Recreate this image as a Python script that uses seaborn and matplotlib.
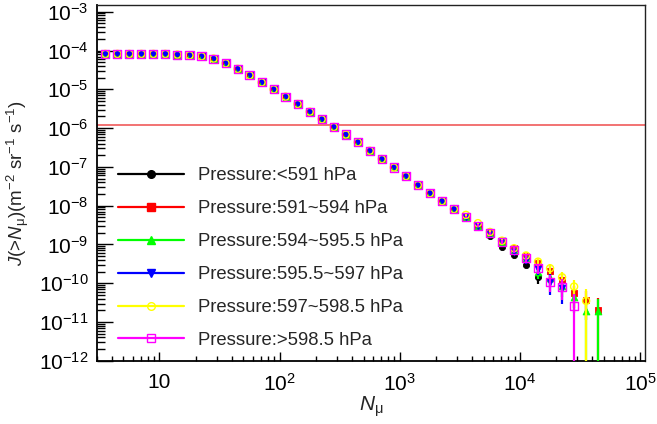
import matplotlib
matplotlib.use("Agg")
import numpy as np
import pandas as pd
import matplotlib.pyplot as plt
from matplotlib.lines import Line2D
from matplotlib.ticker import FixedLocator, FixedFormatter, LogLocator, NullFormatter
import seaborn as sns

# Muon-number bin centres (10 logarithmic bins per decade)
n_mu = [3.55, 4.47, 5.62, 7.08, 8.91, 11.2, 14.1, 17.8, 22.4, 28.2,
        35.5, 44.7, 56.2, 70.8, 89.1, 112, 141, 178, 224, 282,
        355, 447, 562, 708, 891, 1122, 1413, 1778, 2239, 2818,
        3548, 4467, 5623, 7079, 8913, 11220, 14125, 17783, 22387, 28184,
        35481, 44668]

# Integral flux J(>N_mu), identical for all pressure bins up to N_mu ~ 3000
flux_common = [8.18e-5, 8.18e-5, 8.18e-5, 8.18e-5, 8.18e-5, 8.18e-5, 7.85e-5, 7.53e-5, 7.10e-5, 6.19e-5,
               4.68e-5, 3.36e-5, 2.30e-5, 1.51e-5, 9.98e-6, 6.46e-6, 4.19e-6, 2.65e-6, 1.69e-6, 1.07e-6,
               6.82e-7, 4.32e-7, 2.61e-7, 1.59e-7, 9.64e-8, 5.78e-8, 3.39e-8, 2.10e-8, 1.31e-8, 8.18e-9]

# High-multiplicity tails for each pressure bin, with statistical errors
tail_lt591 = [4.84e-9, 2.79e-9, 1.66e-9, 8.8e-10, 5.4e-10, 3.0e-10, 1.45e-10]
err_lt591 = [1.5e-10, 1.2e-10, 1.0e-10, 8e-11, 7e-11, 6e-11, 5e-11]

tail_591_594 = [5.14e-9, 3.07e-9, 1.95e-9, 1.2e-9, 8.0e-10, 5.15e-10, 3.3e-10, 2.07e-10, 1.21e-10, 5.5e-11, 3.7e-11, 2.04e-11]
err_591_594 = [3.2e-10, 2.5e-10, 1.95e-10, 1.5e-10, 1.3e-10, 1.0e-10, 8.2e-11, 6.4e-11, 5.0e-11, 3.2e-11, 2.6e-11, 2.04e-11]

tail_594_5955 = [5.14e-9, 3.07e-9, 1.95e-9, 1.18e-9, 7.2e-10, 4.4e-10, 1.9e-10, 1.34e-10, 8.5e-11, 4.5e-11, 1.95e-11, 1.95e-11]
err_594_5955 = [3.2e-10, 2.5e-10, 1.95e-10, 1.5e-10, 1.2e-10, 9e-11, 6e-11, 5e-11, 4e-11, 2.8e-11, 1.95e-11, 1.95e-11]

tail_5955_597 = [5.1e-9, 3.07e-9, 1.9e-9, 1.2e-9, 6.5e-10, 4.0e-10, 2.3e-10, 1.1e-10, 7.5e-11]
err_5955_597 = [3.2e-10, 2.5e-10, 1.9e-10, 1.5e-10, 1.15e-10, 9e-11, 7e-11, 6e-11, 4.5e-11]

tail_597_5985 = [5.79e-9, 3.54e-9, 2.1e-9, 1.25e-9, 8.0e-10, 5.2e-10, 3.6e-10, 2.43e-10, 1.43e-10, 8.2e-11, 3.5e-11]
err_597_5985 = [3.5e-10, 2.7e-10, 2.1e-10, 1.6e-10, 1.3e-10, 1.05e-10, 8.5e-11, 7e-11, 5.5e-11, 4e-11, 3.5e-11]

tail_gt5985 = [5.1e-9, 3.07e-9, 1.95e-9, 1.18e-9, 7.2e-10, 4.4e-10, 2.45e-10, 1.1e-10, 8.15e-11, 2.6e-11]
err_gt5985 = [3.2e-10, 2.5e-10, 1.95e-10, 1.5e-10, 1.2e-10, 9e-11, 7e-11, 5e-11, 4.5e-11, 2.6e-11]

labels = ["Pressure:<591 hPa", "Pressure:591~594 hPa", "Pressure:594~595.5 hPa",
          "Pressure:595.5~597 hPa", "Pressure:597~598.5 hPa", "Pressure:>598.5 hPa"]
tails = [tail_lt591, tail_591_594, tail_594_5955, tail_5955_597, tail_597_5985, tail_gt5985]
tail_errs = [err_lt591, err_591_594, err_594_5955, err_5955_597, err_597_5985, err_gt5985]

flux_threshold = 1.2e-6

x_ticks = [10, 1e2, 1e3, 1e4, 1e5]
x_ticklabels = ["10", "$10^{2}$", "$10^{3}$", "$10^{4}$", "$10^{5}$"]
y_ticks = [1e-12, 1e-11, 1e-10, 1e-9, 1e-8, 1e-7, 1e-6, 1e-5, 1e-4, 1e-3]
y_ticklabels = ["$10^{-12}$", "$10^{-11}$", "$10^{-10}$", "$10^{-9}$", "$10^{-8}$",
                "$10^{-7}$", "$10^{-6}$", "$10^{-5}$", "$10^{-4}$", "$10^{-3}$"]

colors = ["#000000", "#ff0000", "#00ff00", "#0000ff", "#ffff00", "#ff00ff"]
markers = ["o", "s", "^", "v", "o", "s"]
filled = [True, True, True, True, False, False]
sizes = [20, 22, 24, 24, 26, 34]

# Long-form table of all pressure bins
rows = []
for lab, tail, terr in zip(labels, tails, tail_errs):
    flux = flux_common + tail
    err = [0.0] * len(flux_common) + terr
    for n, j, e in zip(n_mu, flux, err):
        rows.append({"series": lab, "N": n, "J": j, "err": e})
df = pd.DataFrame(rows)

sns.set_style("ticks")
plt.rcParams["font.family"] = ["Liberation Sans", "DejaVu Sans"]
plt.rcParams["mathtext.fontset"] = "custom"
plt.rcParams["mathtext.rm"] = "Liberation Sans"
plt.rcParams["mathtext.it"] = "Liberation Sans:italic"
plt.rcParams["mathtext.bf"] = "Liberation Sans:bold"
plt.rcParams["mathtext.default"] = "regular"

fig = plt.figure(figsize=(6.57, 4.24), dpi=100)
ax = fig.add_axes([0.147, 0.149, 0.835, 0.840])
ax.set_xscale("log")
ax.set_yscale("log")

for i, lab in enumerate(labels):
    sub = df[df["series"] == lab]
    c = colors[i]
    ax.errorbar(sub["N"], sub["J"], yerr=sub["err"], fmt="none", ecolor=c,
                elinewidth=1.6, capsize=0, zorder=2 + 2 * i)
    sns.scatterplot(data=sub, x="N", y="J", ax=ax, marker=markers[i], s=sizes[i],
                    color=c, edgecolor=c, facecolor=c if filled[i] else "none",
                    linewidth=0.6 if filled[i] else 1.0, legend=False, zorder=3 + 2 * i)

ax.axhline(flux_threshold, color="#f05a5a", lw=1.2, zorder=1)

ax.set_xlim(3.0, 1.1e5)
ax.set_ylim(1e-12, 1.52e-3)

ax.xaxis.set_major_locator(FixedLocator(x_ticks))
ax.xaxis.set_major_formatter(FixedFormatter(x_ticklabels))
ax.xaxis.set_minor_locator(LogLocator(base=10, subs=np.arange(2, 10), numticks=50))
ax.xaxis.set_minor_formatter(NullFormatter())
ax.yaxis.set_major_locator(FixedLocator(y_ticks))
ax.yaxis.set_major_formatter(FixedFormatter(y_ticklabels))
ax.yaxis.set_minor_locator(LogLocator(base=10, subs=np.arange(2, 10), numticks=50))
ax.yaxis.set_minor_formatter(NullFormatter())

ax.tick_params(which="both", direction="in", top=False, right=False, colors="black", width=1.0)
ax.tick_params(axis="y", which="major", length=11.5, pad=6, labelsize=15)
ax.tick_params(axis="y", which="minor", length=5.8)
ax.tick_params(axis="x", which="major", length=6.5, pad=9, labelsize=15)
ax.tick_params(axis="x", which="minor", length=3.3)

for side in ["left", "bottom"]:
    ax.spines[side].set_linewidth(1.3)
    ax.spines[side].set_color("black")
for side in ["top", "right"]:
    ax.spines[side].set_linewidth(1.0)
    ax.spines[side].set_color("#222222")

ax.set_xlabel(r"$\mathit{N}_{\mu}$", fontsize=15)
ax.xaxis.set_label_coords(0.5, -0.095)
ax.set_ylabel(r"$\mathit{J}$(>$\mathit{N}_{\mu}$)(m$^{-2}$ sr$^{-1}$ s$^{-1}$)", fontsize=13.5)
ax.yaxis.set_label_coords(-0.12, 0.5)

handles = [Line2D([], [], color=c, lw=1.6, marker=m, markersize=5.5,
                  markerfacecolor=c if f else "none", markeredgecolor=c)
           for c, m, f in zip(colors, markers, filled)]
ax.legend(handles, labels, loc="upper left", bbox_to_anchor=(0.0388, 0.543),
          frameon=False, fontsize=13.3, handlelength=3.6, handletextpad=0.75,
          labelspacing=0.86, borderpad=0, borderaxespad=0)

fig.savefig("out.png", dpi=100)
